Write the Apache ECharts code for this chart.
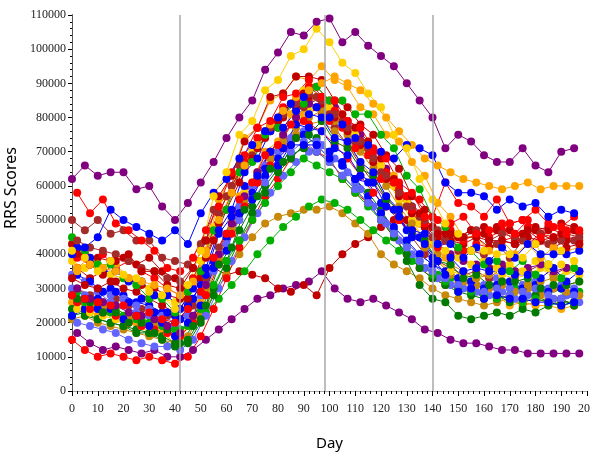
<!DOCTYPE html>
<html>
<head>
<meta charset="utf-8">
<script src="https://cdn.jsdelivr.net/npm/echarts@6/dist/echarts.min.js"></script>
<style>
  html, body { margin: 0; padding: 0; background: #fff; }
  #chart { width: 590px; height: 452px; }
</style>
</head>
<body>
<div id="chart"></div>
<script>
// measurement days (two visit schedules)
const daysA = [0,5,10,15,20,25,30,35,40,45,50,55,60,65,70,75,80,85,90,95,100,105,110,115,120,125,130,135,140,145,150,155,160,165,170,175,180,185,190,195];
const daysB = [2,7,12,17,22,27,32,37,42,47,52,57,62,67,72,77,82,87,92,97,102,107,112,117,122,127,132,137,142,147,152,157,162,167,172,177,182,187,192,197];

// RRS scores in thousands, one array per subject
const purpleTop = [62,66,63,64,64,59,60,54,50,55,61,67,74,80,85,94,99,105,104,108,109,102,105,101,98,95,90,85,80,71,75,73,69,67,67,71,66,64,70,71];
const purpleLow = [17,14,12,13,12,11,12,10,10,12,15,18,21,24,27,28,30,31,32,35,30,27,26,27,25,23,21,18,17,15,14,14,13,12,12,11,11,11,11,11];
const purpleMid = [30,27,26,25,23,22,21,19,17,22,31,40,49,57,64,70,75,80,84,86,83,79,75,70,65,60,54,48,43,40,38,37,36,37,35,36,37,35,36,35];
const redLow = [15,12,10,11,10,9,10,9,8,10,16,24,33,42,50,57,62,68,72,70,68,62,58,55,50,45,40,36,33,31,30,29,28,27,28,26,27,26,27,25];
const redHigh = [58,52,56,49,47,44,41,36,35,39,47,54,64,69,77,79,86,87,91,86,85,79,77,71,68,61,58,51,50,49,51,46,47,49,46,50,45,48,46,47];
const redSpike = [28,27,26,25,25,22,23,21,20,24,29,39,46,56,61,69,72,78,79,83,79,77,71,69,62,61,57,56,51,61,55,54,51,56,49,50,53,49,48,51];
const redMid = [26,24,23,22,20,19,18,17,16,20,28,37,46,54,61,66,71,74,78,76,72,68,63,58,54,50,47,44,42,44,41,43,42,44,45,43,46,44,45,44];
const red5 = [39,37,40,36,38,35,33,30,28,33,41,52,60,67,74,78,83,85,89,86,82,79,73,70,64,59,53,49,46,47,44,46,45,47,44,48,46,45,47,46];
const fireFlat = [43,40,39,38,39,37,39,35,33,30,33,36,34,35,34,33,30,29,31,28,36,40,43,45,48,50,50,49,48,44,45,47,48,47,49,50,48,47,49,48];
const fire2 = [40,37,34,38,40,35,35,31,30,36,44,57,63,73,77,86,87,92,92,91,85,83,78,75,69,65,57,53,46,46,45,45,44,44,43,47,44,45,42,43];
const fire3 = [33,31,30,32,30,29,27,25,23,27,35,44,53,61,68,74,79,84,87,89,85,81,77,73,68,62,57,52,48,46,45,47,46,48,47,46,47,48,46,47];
const fire4 = [36,33,35,32,33,31,30,28,27,31,39,49,58,65,71,76,80,83,86,84,80,76,72,67,62,57,52,48,45,44,43,45,42,44,43,45,44,42,44,43];
const brown1 = [50,47,50,46,47,44,44,39,38,37,43,53,57,66,69,76,77,84,83,86,81,79,73,71,64,61,54,51,45,44,41,41,40,43,39,44,43,43,44,44];
const brown2 = [30,28,26,27,25,24,23,22,21,25,33,42,50,58,64,69,74,80,84,81,77,72,66,61,56,50,45,40,38,36,34,35,33,36,34,35,37,34,36,35];
const brown3 = [44,42,41,40,38,36,35,33,32,36,44,52,60,66,72,77,81,84,87,85,81,77,73,68,63,58,54,50,47,46,45,47,44,46,45,47,46,44,46,45];
const blueHigh = [40,42,45,53,50,48,46,44,47,43,52,58,62,68,72,76,80,84,86,83,80,78,74,72,70,68,72,71,69,61,58,58,57,53,56,54,55,51,53,52];
const blue2 = [34,32,29,29,26,27,23,23,21,27,34,46,51,60,63,70,71,78,77,76,71,69,63,61,54,51,45,43,38,39,35,36,35,35,34,34,33,36,32,35];
const blue3 = [22,24,27,30,28,26,25,23,22,25,31,38,45,52,58,63,68,72,75,72,70,66,62,57,52,48,44,40,37,35,33,32,30,31,32,30,31,29,30,29];
const blue4 = [42,39,35,35,32,32,28,28,24,30,36,47,53,64,68,76,77,82,81,80,74,73,67,64,57,53,47,46,43,43,39,42,38,42,39,43,40,40,40,41];
const blue5 = [28,27,24,24,21,22,19,20,16,20,25,36,41,52,56,65,66,72,72,72,68,67,62,61,55,53,47,45,39,34,29,30,27,28,27,27,26,26,25,26];
const slate1 = [34,32,30,28,27,25,24,22,20,22,28,35,43,50,56,61,66,70,73,70,67,63,59,55,50,46,42,38,35,33,31,30,29,30,28,29,30,28,27,28];
const slate2 = [20,19,18,17,15,14,13,13,12,15,22,30,38,45,52,58,63,67,70,72,68,64,59,54,49,44,40,36,33,31,30,29,28,29,27,28,29,27,28,26];
const slate3 = [30,28,29,26,25,23,22,21,19,22,29,38,46,54,60,66,70,74,76,73,70,66,61,57,52,47,43,40,37,34,33,32,31,33,30,31,32,30,31,30];
const green1 = [28,26,25,23,22,21,20,19,18,19,24,31,38,44,50,55,60,64,68,66,64,62,58,54,50,46,42,38,34,32,30,29,28,27,28,26,27,26,25,26];
const greenLow = [29,27,25,24,22,21,20,19,18,19,23,27,31,35,40,44,48,51,54,56,55,53,50,47,44,41,38,36,34,33,32,31,31,32,30,31,29,30,28,29];
const green3 = [45,41,37,37,33,31,27,27,23,29,35,47,53,64,67,75,77,84,84,89,85,85,81,81,75,71,63,59,51,48,42,41,37,38,35,38,34,37,33,36];
const dkgreen1 = [24,22,21,20,19,18,17,16,14,14,20,28,36,44,52,58,64,68,72,74,70,66,62,58,53,47,38,31,27,26,22,21,22,23,22,24,23,25,26,26];
const dkgreen2 = [27,26,23,23,20,20,17,18,14,19,25,37,42,53,57,65,67,74,75,79,73,71,65,63,56,53,46,44,38,37,33,34,31,32,32,33,30,31,31,32];
const dkgreen3 = [22,23,21,20,19,17,17,15,13,15,21,30,38,47,54,60,65,69,71,70,67,63,59,55,50,45,40,36,33,31,29,28,27,28,26,27,28,26,27,25];
const orangePlat = [35,37,36,35,33,32,31,30,28,32,40,50,58,66,72,78,82,86,88,90,92,90,88,84,80,76,72,68,66,64,62,61,60,59,60,61,59,60,60,60];
const orange2 = [26,25,22,23,19,20,17,17,14,19,26,39,45,57,61,70,73,81,81,86,82,81,75,73,66,63,55,51,43,39,32,31,27,28,25,26,25,25,24,25];
const orange3 = [36,39,36,37,33,32,28,28,24,31,41,56,63,74,77,85,87,92,91,95,91,89,83,81,75,73,67,63,55,51,45,45,41,44,40,43,39,42,41,42];
const goldTop = [41,39,35,38,34,33,29,28,24,31,41,57,64,75,79,88,91,98,100,106,102,96,93,87,83,75,71,62,56,49,46,41,41,40,40,39,43,37,41,38];
const gold2 = [24,23,22,21,20,19,18,17,16,20,30,40,50,58,64,70,75,79,82,84,80,76,72,67,62,56,50,44,38,35,34,33,35,34,33,34,36,33,35,34];
const gold3 = [38,36,37,34,33,31,30,27,26,29,38,48,57,64,70,75,80,84,88,86,83,79,75,71,66,60,55,49,44,41,39,37,38,36,37,35,38,36,37,36];
const goldenPlat = [21,22,20,19,18,17,16,15,14,16,22,28,34,40,45,49,51,52,53,53,54,52,49,46,40,37,35,33,30,28,27,26,25,26,27,25,26,27,25,26];
const golden2 = [27,25,24,23,21,20,19,18,17,21,30,39,48,56,63,68,73,77,80,82,79,75,70,65,60,54,49,44,40,37,35,33,34,32,33,31,32,33,31,32];
const golden3 = [26,24,25,22,21,19,19,17,16,20,29,38,47,55,61,66,71,75,78,79,76,72,67,62,57,52,47,42,38,34,32,31,30,31,29,30,28,30,29,28];

// vertical reference days
const refDays = [42, 98, 140];

const PURPLE = '#800080', RED = '#ff0000', FIRE = '#c00000', BROWN = '#a52a2a',
      BLUE = '#0000ff', SLATE = '#6464ff', GREEN = '#00b000', DKGREEN = '#007a00',
      ORANGE = '#ffa500', GOLD = '#ffd000', GOLDEN = '#c8880a';

const subjects = [
  [purpleLow, daysB, PURPLE], [fireFlat, daysA, FIRE], [goldenPlat, daysA, GOLDEN],
  [greenLow, daysB, GREEN], [redLow, daysA, RED], [slate2, daysB, SLATE],
  [brown2, daysB, BROWN], [orange2, daysA, ORANGE], [dkgreen1, daysA, DKGREEN],
  [golden3, daysB, GOLDEN], [slate3, daysA, SLATE], [dkgreen3, daysA, DKGREEN],
  [blue3, daysA, BLUE], [gold2, daysB, GOLD], [green1, daysA, GREEN],
  [slate1, daysA, SLATE], [golden2, daysB, GOLDEN], [redMid, daysB, RED],
  [blue5, daysA, BLUE], [dkgreen2, daysB, DKGREEN], [purpleMid, daysB, PURPLE],
  [gold3, daysA, GOLD], [fire4, daysB, FIRE], [red5, daysB, RED],
  [brown1, daysA, BROWN], [blue2, daysB, BLUE], [orange3, daysB, ORANGE],
  [fire3, daysA, FIRE], [green3, daysA, GREEN], [redSpike, daysA, RED],
  [blue4, daysB, BLUE], [brown3, daysB, BROWN], [fire2, daysB, FIRE],
  [orangePlat, daysB, ORANGE], [redHigh, daysB, RED], [blueHigh, daysA, BLUE],
  [goldTop, daysA, GOLD], [purpleTop, daysA, PURPLE]
];

const serif = 'Liberation Serif';

let series = subjects.map(function (s) {
  return {
    type: 'line',
    data: s[0].map(function (v, j) { return [s[1][j], v * 1000]; }),
    symbol: 'circle',
    symbolSize: 8,
    itemStyle: { color: s[2] },
    lineStyle: { color: s[2], width: 1 },
    silent: true
  };
});

series.unshift({
  type: 'line',
  data: [],
  markLine: {
    silent: true,
    symbol: 'none',
    label: { show: false },
    lineStyle: { color: '#a8a8a8', width: 1.5, type: 'solid' },
    data: refDays.map(function (d) { return { xAxis: d }; })
  }
});

const chart = echarts.init(document.getElementById('chart'), null, { renderer: 'canvas' });
chart.setOption({
  animation: false,
  grid: { left: 72, right: 3, top: 15, bottom: 61, containLabel: false, outerBoundsMode: 'none' },
  xAxis: [{
    type: 'value', min: 0, max: 200, interval: 10, offset: 3,
    name: 'Day', nameLocation: 'middle', nameGap: 42,
    nameTextStyle: { fontFamily: 'Noto Sans', fontSize: 15, color: '#000' },
    axisLine: { lineStyle: { color: '#000', width: 1 } },
    axisTick: { length: 5, lineStyle: { color: '#000' } },
    minorTick: { show: true, splitNumber: 5, length: 3, lineStyle: { color: '#000' } },
    splitLine: { show: false },
    axisLabel: { fontFamily: serif, fontSize: 12, color: '#222', margin: 9 }
  }, {
    type: 'value', min: 0, max: 200, position: 'top', offset: 5,
    axisLine: { lineStyle: { color: '#a8a8a8' } },
    axisTick: { show: false }, axisLabel: { show: false }, splitLine: { show: false }
  }],
  yAxis: [{
    type: 'value', min: 0, max: 110000, interval: 10000, offset: 2,
    name: 'RRS Scores', nameLocation: 'middle', nameGap: 46,
    nameTextStyle: { fontFamily: 'Noto Sans', fontSize: 16, color: '#000', padding: [0, 0, 0, 30] },
    axisLine: { show: true, lineStyle: { color: '#000', width: 1 } },
    axisTick: { show: true, length: 4, lineStyle: { color: '#000' } },
    minorTick: { show: true, splitNumber: 5, length: 2, lineStyle: { color: '#000' } },
    splitLine: { show: false },
    axisLabel: {
      fontFamily: serif, fontSize: 12, color: '#222', margin: 4,
      formatter: function (v) { return String(v); }
    }
  }, {
    type: 'value', min: 0, max: 110000, position: 'right',
    axisLine: { show: true, lineStyle: { color: '#555' } },
    axisTick: { show: false }, axisLabel: { show: false }, splitLine: { show: false }
  }],
  series: series
});
</script>
</body>
</html>
